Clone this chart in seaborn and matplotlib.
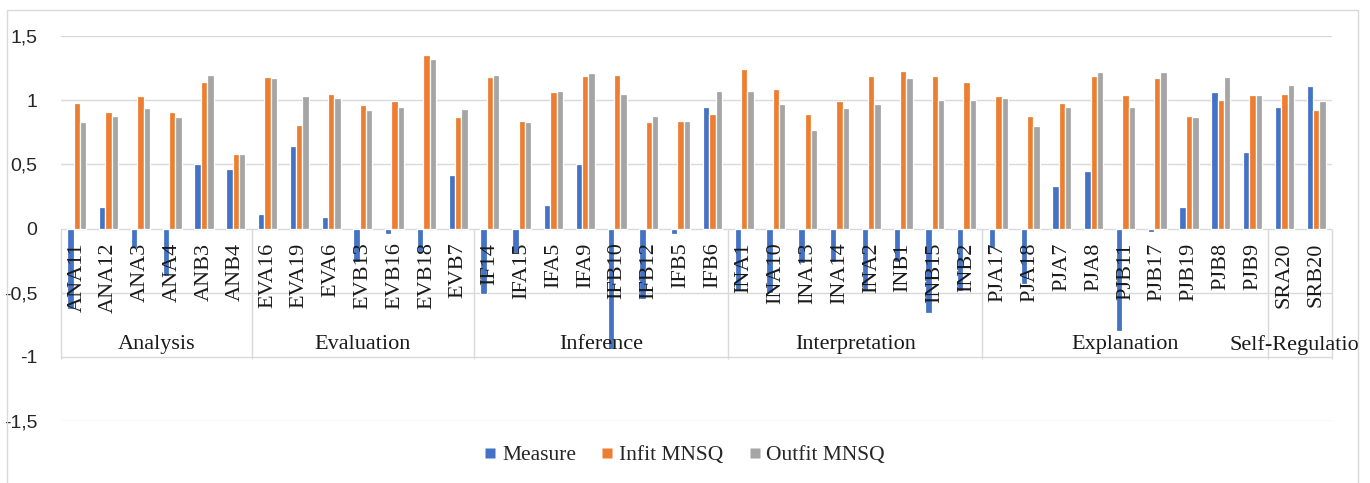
import numpy as np
import pandas as pd
import matplotlib
matplotlib.use("Agg")
import matplotlib.pyplot as plt
import seaborn as sns
from matplotlib.patches import Rectangle
from matplotlib.lines import Line2D
from matplotlib.transforms import Bbox, TransformedBbox

# Item codes, in axis order
items = [
    "ANA11", "ANA12", "ANA3", "ANA4", "ANB3", "ANB4",
    "EVA16", "EVA19", "EVA6", "EVB13", "EVB16", "EVB18", "EVB7",
    "IF14", "IFA15", "IFA5", "IFA9", "IFB10", "IFB12", "IFB5", "IFB6",
    "INA1", "INA10", "INA13", "INA14", "INA2", "INB1", "INB15", "INB2",
    "PJA17", "PJA18", "PJA7", "PJA8", "PJB11", "PJB17", "PJB19", "PJB8", "PJB9",
    "SRA20", "SRB20",
]

# Skill groups and how many items each one holds
groups = ["Analysis", "Evaluation", "Inference", "Interpretation", "Explanation", "Self-Regulation"]
group_sizes = [6, 7, 8, 8, 9, 2]

measure = [
    -0.63, 0.17, -0.15, -0.37, 0.50, 0.46,
    0.11, 0.64, 0.09, -0.26, -0.04, -0.18, 0.42,
    -0.51, -0.19, 0.18, 0.50, -0.94, -0.55, -0.04, 0.95,
    -0.48, -0.50, -0.27, -0.26, -0.48, -0.26, -0.66, -0.49,
    -0.15, -0.43, 0.33, 0.45, -0.80, -0.03, 0.17, 1.06, 0.60,
    0.95, 1.11,
]
infit_mnsq = [
    0.98, 0.91, 1.03, 0.91, 1.14, 0.58,
    1.18, 0.81, 1.05, 0.96, 0.99, 1.35, 0.87,
    1.18, 0.84, 1.06, 1.19, 1.20, 0.83, 0.84, 0.89,
    1.24, 1.09, 0.89, 0.99, 1.19, 1.23, 1.19, 1.14,
    1.03, 0.88, 0.98, 1.19, 1.04, 1.17, 0.88, 1.00, 1.04,
    1.05, 0.92,
]
outfit_mnsq = [
    0.83, 0.88, 0.94, 0.87, 1.20, 0.58,
    1.17, 1.03, 1.02, 0.92, 0.95, 1.32, 0.93,
    1.20, 0.83, 1.07, 1.21, 1.05, 0.88, 0.84, 1.07,
    1.07, 0.97, 0.77, 0.94, 0.97, 1.17, 1.00, 1.00,
    1.02, 0.80, 0.95, 1.22, 0.95, 1.22, 0.87, 1.18, 1.04,
    1.12, 0.99,
]

series_names = ["Measure", "Infit MNSQ", "Outfit MNSQ"]
series_colors = ["#4472C4", "#ED7D31", "#A5A5A5"]

y_ticks = [-1.5, -1.0, -0.5, 0.0, 0.5, 1.0, 1.5]
y_tick_labels = ["-1,5", "-1", "-0,5", "0", "0,5", "1", "1,5"]

sns.set_style("white")
plt.rcParams["font.family"] = ["Liberation Serif", "DejaVu Serif"]

W, H = 1370, 483
fig = plt.figure(figsize=(W / 100, H / 100), dpi=100)
ax = fig.add_axes([61 / W, 1 - 421 / H, 1271 / W, 385 / H])

df = pd.DataFrame({
    "item": items,
    series_names[0]: measure,
    series_names[1]: infit_mnsq,
    series_names[2]: outfit_mnsq,
}).melt(id_vars="item", var_name="series", value_name="value")

sns.barplot(
    data=df, x="item", y="value", hue="series",
    order=items, hue_order=series_names, palette=series_colors,
    width=0.6, edgecolor="white", linewidth=0.9, errorbar=None,
    saturation=1, legend=False, ax=ax,
)

ax.set_xlim(-0.5, len(items) - 0.5)
ax.set_ylim(-1.5, 1.5)
ax.set_xticks([])
ax.set_xlabel("")
ax.set_ylabel("")
ax.set_yticks(y_ticks)
ax.set_yticklabels(y_tick_labels, fontfamily="Liberation Sans", fontsize=14, color="#262626")
ax.tick_params(axis="y", length=0, pad=17)
ax.yaxis.grid(True, color="#d9d9d9", linewidth=1)
ax.set_axisbelow(True)
for sp in ax.spines.values():
    sp.set_visible(False)

# Item labels under the zero line
for i, name in enumerate(items):
    ax.text(i, -0.11, name, rotation=90, ha="center", va="top",
            fontsize=16, color="#1a1a1a", zorder=5)

# Group labels and separators
bounds = np.concatenate([[0], np.cumsum(group_sizes)]) - 0.5
ax.vlines(bounds, -1.02, 0, color="#d9d9d9", linewidth=1, clip_on=False, zorder=1)
clip = TransformedBbox(Bbox.from_extents(0, 0, 1358 / W, 1), fig.transFigure)
for g, a, b in zip(groups, bounds[:-1], bounds[1:]):
    t = ax.text((a + b) / 2, -0.905, g, ha="center", va="center",
                fontsize=16, color="#1a1a1a", zorder=5)
    t.set_clip_path(None)
    t.set_clip_box(clip)
    t.set_clip_on(True)

# Legend with square swatches
handles = [Line2D([], [], marker="s", linestyle="none", markersize=7.5,
                  markerfacecolor=c, markeredgecolor="none") for c in series_colors]
fig.legend(handles, series_names, loc="center", bbox_to_anchor=(0.5, 1 - 455 / H),
           ncol=3, frameon=False, fontsize=15.5, handlelength=0.5,
           handletextpad=0.3, columnspacing=1.2)

# Chart frame
fig.add_artist(Rectangle((7 / W, -0.1), (1358 - 7) / W, 1.1 - 10 / H,
                         transform=fig.transFigure, fill=False,
                         edgecolor="#d9d9d9", linewidth=1))

fig.savefig("out.png", dpi=100)
